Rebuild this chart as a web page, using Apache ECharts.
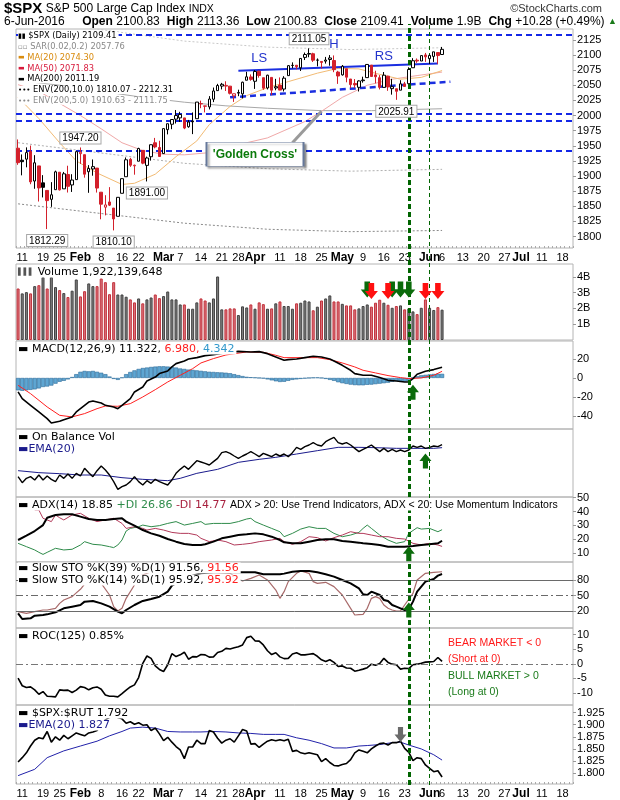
<!DOCTYPE html>
<html><head><meta charset="utf-8">
<script src="https://cdn.jsdelivr.net/npm/echarts@6/dist/echarts.min.js"></script>
<style>html,body{margin:0;padding:0;background:#fff}#c{width:620px;height:800px}</style>
</head><body><div id="c"></div>
<script>
// ---------- categories (trading days) ----------
const monthDays = {
  '01':[8,11,12,13,14,15,19,20,21,22,25,26,27,28,29],
  '02':[1,2,3,4,5,8,9,10,11,12,16,17,18,19,22,23,24,25,26,29],
  '03':[1,2,3,4,7,8,9,10,11,14,15,16,17,18,21,22,23,24,28,29,30,31],
  '04':[1,4,5,6,7,8,11,12,13,14,15,18,19,20,21,22,25,26,27,28,29],
  '05':[2,3,4,5,6,9,10,11,12,13,16,17,18,19,20,23,24,25,26,27,31],
  '06':[1,2,3,6,7,8,9,10,13,14,15,16,17,20,21,22,23,24,27,28,29,30],
  '07':[1,5,6,7,8,11,12,13,14,15,18,19,20]
};
const categories = [];
Object.keys(monthDays).forEach(m => monthDays[m].forEach(d => categories.push('2016-' + m + '-' + String(d).padStart(2,'0'))));

const tickDates = ['2016-01-11','2016-01-19','2016-01-25','2016-02-01','2016-02-08','2016-02-16','2016-02-22','2016-03-01','2016-03-07','2016-03-14','2016-03-21','2016-03-28','2016-04-01','2016-04-11','2016-04-18','2016-04-25','2016-05-02','2016-05-09','2016-05-16','2016-05-23','2016-06-01','2016-06-06','2016-06-13','2016-06-20','2016-06-27','2016-07-01','2016-07-11','2016-07-18'];
const tickLabels = ['11','19','25','Feb','8','16','22','Mar','7','14','21','28','Apr','11','18','25','May','9','16','23','Jun','6','13','20','27','Jul','11','18'];

// ---------- price ----------
const prevClose0 = 1943.09;
const open = [1945.97,1926.12,1927.83,1940.34,1891.68,1916.68,1888.66,1876.18,1861.46,1877.40,1906.28,1878.79,1902.52,1885.22,1894.00,
1936.94,1935.26,1907.07,1911.67,1913.07,1873.25,1848.46,1857.10,1847.00,1833.40,1871.44,1898.80,1927.57,1916.74,1924.44,1942.38,1917.56,1931.87,1954.95,1947.13,
1937.09,1976.60,1985.60,1994.01,1996.11,1996.05,1981.44,1990.97,1994.71,2019.27,2015.27,2014.24,2026.90,2041.16,2048.64,2048.64,2048.55,2032.48,2037.89,2035.75,2058.27,2063.77,
2056.62,2073.19,2062.50,2045.56,2063.01,2045.54,2050.23,2043.72,2065.92,2082.89,2083.10,2078.83,2096.05,2101.52,2102.09,2091.49,2089.37,2089.84,2092.57,2090.93,2071.82,
2067.17,2077.18,2060.30,2052.95,2046.61,2057.55,2062.63,2083.29,2067.17,2062.50,2046.53,2065.04,2044.38,2044.21,2041.88,2052.23,2052.65,2078.93,2091.44,2090.06,2100.13,
2093.94,2097.71,2104.07,2100.83];
const high = [1960.40,1935.65,1947.38,1950.33,1934.47,1916.68,1901.44,1876.18,1889.85,1908.85,1906.28,1906.73,1916.99,1902.96,1940.24,
1947.20,1935.26,1918.01,1927.35,1913.07,1873.25,1868.25,1881.60,1847.00,1864.78,1895.77,1930.68,1930.00,1918.78,1946.70,1942.38,1932.08,1951.83,1962.96,1958.27,
1978.35,1986.51,1993.69,2009.13,2006.12,1996.05,1992.69,2005.08,2022.37,2024.57,2015.94,2032.02,2046.24,2052.36,2053.91,2056.60,2048.55,2036.04,2042.67,2055.91,2072.21,2067.92,
2075.07,2074.02,2062.50,2067.33,2063.01,2060.63,2062.93,2065.05,2083.18,2087.84,2083.22,2094.66,2104.05,2111.05,2103.78,2094.32,2089.37,2096.87,2099.89,2099.30,2073.85,
2083.42,2077.18,2060.30,2060.23,2058.21,2064.15,2084.87,2083.29,2073.99,2066.79,2071.88,2065.69,2060.61,2044.21,2058.35,2055.58,2079.67,2094.73,2094.30,2099.06,2103.48,
2100.97,2105.26,2104.07,2113.36];
const low = [1918.46,1901.10,1914.35,1886.41,1878.93,1857.83,1864.60,1812.29,1848.98,1877.40,1875.97,1878.79,1872.70,1873.65,1894.00,
1920.03,1897.29,1872.23,1900.52,1872.65,1828.46,1834.94,1850.32,1810.10,1833.40,1871.44,1898.80,1915.09,1902.17,1924.44,1919.44,1891.00,1925.41,1945.78,1931.81,
1937.09,1968.80,1977.37,1986.77,1989.38,1977.43,1979.84,1969.25,1994.71,2012.05,2005.23,2010.04,2022.16,2041.16,2043.14,2040.57,2034.86,2022.49,2031.96,2028.31,2058.27,2057.46,
2043.98,2062.57,2042.56,2043.09,2033.80,2041.69,2041.88,2039.74,2065.92,2078.13,2076.31,2073.65,2091.68,2096.32,2088.52,2081.20,2077.52,2085.80,2082.31,2071.62,2052.28,
2066.11,2054.89,2045.55,2045.77,2039.74,2054.31,2062.63,2064.46,2053.13,2043.13,2046.53,2040.82,2034.49,2025.91,2041.88,2047.26,2052.65,2078.93,2087.08,2090.06,2088.66,
2085.10,2088.59,2085.36,2100.83];
const close = [1922.03,1923.67,1938.68,1890.28,1921.84,1880.33,1881.33,1859.33,1868.99,1906.90,1877.08,1903.63,1882.95,1893.36,1940.24,
1939.38,1903.03,1912.53,1915.45,1880.05,1853.44,1852.21,1851.86,1829.08,1864.78,1895.58,1926.82,1917.83,1917.78,1945.50,1921.27,1929.80,1951.70,1948.05,1932.23,
1978.35,1986.45,1993.40,1999.99,2001.76,1979.26,1989.26,1989.57,2022.19,2019.64,2015.93,2027.22,2040.59,2049.58,2051.60,2049.80,2036.71,2035.94,2037.05,2055.01,2063.95,2059.74,
2072.78,2066.13,2045.17,2066.66,2041.91,2047.60,2041.99,2061.72,2082.42,2082.78,2080.73,2094.34,2100.80,2102.40,2091.48,2091.58,2087.79,2091.70,2095.15,2075.81,2065.30,
2081.43,2063.37,2051.12,2050.63,2057.14,2058.69,2084.39,2064.46,2064.11,2046.61,2066.66,2047.21,2047.63,2040.04,2052.32,2048.04,2076.06,2090.54,2090.10,2099.06,2096.95,
2099.33,2105.26,2099.13,2109.41];

// overlays: [dayIndex, value]
const ma20 = [[0,2030],[5,1995],[10,1955],[14,1925],[19,1905],[25,1886],[28,1888],[33,1903],[38,1932],[43,1958],[46,1985],[51,2015],[55,2033],[60,2046],[65,2056],[72,2070],[77,2078],[82,2077],[87,2068],[92,2060],[97,2063],[102,2074.3]];
const ma50 = [[0,2051],[5,2040],[10,2020],[15,2000],[20,1978],[25,1955],[30,1942],[35,1936],[40,1935],[45,1938],[50,1945],[55,1955],[60,1963],[64,1975],[69,1990],[73,2007],[78,2030],[84,2050],[90,2060],[96,2066],[102,2071.8]];
const ma200 = [[0,2058],[10,2050],[20,2040],[30,2030],[40,2022],[50,2016],[60,2012],[73,2008],[85,2008],[95,2010],[102,2011.2]];
const env10Lo = [[0,1854],[20,1838],[40,1822],[60,1812],[80,1808],[102,1810]];
const env5Lo = [[0,1955],[20,1938],[40,1921],[60,1912],[80,1908],[102,1911]];
const env5Hi = [[0,2161],[20,2142],[40,2123],[60,2113],[80,2109],[102,2112]];

// annotations
const hLines = [2133, 2003, 1992, 1941];
const neckIdx = [53, 101], neckVal = [2074, 2086];
const suppIdx = [51, 104], suppVal = [2030, 2056];
const hsText = ['LS','H','RS'], hsIdx = [58, 76, 88], hsVal = [2095, 2117, 2098];
const priceTagIdx = [70, 15, 31, 7, 23, 91];
const priceTagVal = [2111.05, 1947.20, 1891.00, 1812.29, 1810.10, 2025.91];
const priceTagPos = ['top','top','bottom','bottom','bottom','bottom'];
const gcIdx = 57, gcVal = 1936;
const gcPtrIdx = [66, 73], gcPtrVal = [1955, 2007];
const signalIdx = [94, 99];

// ---------- volume (billions) ----------
const volume = [3.26,2.95,3.03,2.95,3.41,3.47,3.98,3.26,3.98,3.35,3.16,2.97,2.72,3.12,3.83,
2.76,3.09,3.58,3.41,3.41,3.89,3.66,2.9,3.66,2.88,2.88,2.74,2.57,2.38,2.63,
2.32,2.57,2.69,2.88,2.65,2.78,3.07,2.57,2.57,2.25,2.25,1.98,1.98,2.38,2.63,
2.5,2.38,2.63,4.02,1.94,1.94,2.0,2.0,
1.58,2.13,2.06,2.25,1.98,2.38,2.27,1.98,2.0,2.32,
2.44,2.15,2.15,1.98,2.32,2.36,2.5,2.44,1.88,2.11,
2.5,2.63,2.82,2.44,2.44,2.29,2.19,2.19,1.94,2.0,
2.15,2.25,2.11,2.36,2.55,2.36,2.23,2.04,2.15,2.19,
1.94,2.0,1.81,1.64,2.04,2.57,2.04,1.9,2.08,1.92];
const volArrowGreen = [84, 90, 92, 94];
const volArrowRed = [85, 89, 98, 101];
const volArrowLevel = 3.1;

// ---------- MACD ----------
const macd = [[0,-14.7],[1,-21.8],[3,-28.8],[5,-35.8],[7,-42.8],[8,-47.4],[10,-45.6],[11,-43.9],[13,-41],[14,-35.8],[16,-28.8],[17,-25.3],[18,-24.2],[20,-26.3],[21,-28.8],[23,-30.5],[24,-32.3],[25,-28.8],[27,-21.8],[28,-14.7],[30,-9.5],[31,-3.2],[33,1],[34,4.6],[36,7.4],[37,11.6],[38,15.1],[40,17.9],[41,20],[43,21.4],[45,23.5],[47,24.6],[50,26.5],[53,28],[56,27.4],[58,27.7],[60,25.6],[62,22.1],[64,18.6],[65,19.3],[67,20],[69,21.4],[71,22.8],[73,22.1],[75,20],[76,17.9],[78,13.3],[80,8.1],[81,4.6],[83,2.8],[85,2.8],[87,0.4],[89,-2.5],[91,-3.2],[93,-4.2],[94,-4.2],[95,-0.7],[96,3.9],[98,7],[100,8.8],[102,11.3]];
const macdSignal = [[0,-7.7],[3,-16.5],[7,-30.5],[10,-39.3],[13,-41],[16,-37.5],[19,-32.3],[21,-29.5],[24,-29.8],[27,-27],[30,-20],[33,-12.3],[36,-4.2],[39,2.8],[42,9.8],[44,15.8],[47,20.4],[50,24.2],[55,27.4],[59,27],[62,23.9],[64,21.4],[68,21.4],[72,21.4],[75,19.3],[78,15.8],[81,11.6],[83,8.1],[86,5.3],[89,2.5],[92,0.4],[94,-0.7],[97,0],[100,2.8],[102,7]];
const macdHist = [-13,-13.5,-13,-12.5,-12,-11,-9.5,-9,-8,-6,-4,-3,-1.5,1,4,6.5,7.4,7,7.4,6.5,5.5,4,1.5,-1,-2,0.5,4,6.3,8,9.5,
10.5,11,11.6,12,12.3,12.3,12,11.6,11,10,9.5,8.8,8.5,8,7.5,7,6.5,6.3,6,5.8,5.5,5,4,3,2,1.2,0.8,0.5,0,-0.5,-1.5,-2.5,-3.5,
-4.2,-4,-3,-2,-1.5,-1,-0.5,0,0.4,0.5,0,-1,-2,-3,-4.5,-5.5,-6.3,-7,-7.5,-7.7,-7.7,-7.2,-7,-6.5,-6,-5.5,-5,-4,-3.2,-3.5,-3.8,-3.5,
0.2,1.8,2.8,3.3,3.8,4.2,4.5,4.34];

// ---------- On Balance Volume (relative units) ----------
const obv = [60,42,55,60,50,65,50,62,52,45,65,55,68,55,70,62,85,72,60,78,92,80,65,45,22,30,35,45,60,45,35,48,40,52,45,40,35,50,70,82,92,82,95,108,104,
100,95,105,115,132,135,130,122,115,122,128,135,128,120,130,125,120,128,122,128,120,132,148,142,150,155,162,155,152,165,172,178,162,158,162,155,145,135,142,148,155,145,135,145,135,142,135,140,135,140,152,148,152,145,148,152,150,156];
const obvEma = [[0,78],[5,72],[10,69],[15,65],[20,65],[25,57],[30,52],[36,48],[39,55],[43,70],[48,82],[53,103],[58,112],[62,118],[67,128],[72,138],[77,148],[82,148],[86,147],[91,145],[96,145],[100,145],[102,147]];

// ---------- ADX ----------
const adx = [[0,19.4],[2,22.5],[4,25.9],[6,30.2],[7,35.5],[9,37.5],[11,38],[13,38],[15,36.3],[17,34.6],[19,33.9],[21,33.9],[23,34.6],[25,35.1],[26,32.7],[28,29.8],[30,26.6],[32,24.2],[34,22.5],[36,20.1],[38,18.2],[40,16.5],[42,15.8],[44,15.8],[45,16.3],[47,18.2],[49,20.6],[51,21.8],[53,23],[55,23.5],[57,24.2],[59,23.5],[61,21.8],[63,19.4],[64,17.7],[66,17],[68,17],[70,18.2],[72,19.4],[74,19.9],[76,19.9],[78,18.7],[80,18.2],[82,17.5],[83,17],[85,16.5],[87,15.8],[89,14.6],[91,14.6],[93,14.6],[95,15.1],[97,15.8],[99,16.3],[101,17],[102,18.85]];
const plusDI = [[0,17],[2,14.6],[4,12.2],[5,10.5],[6,9],[7,10.5],[9,13.4],[11,12.2],[13,12.7],[15,15.8],[16,18.2],[18,16.3],[20,15.8],[22,14.6],[23,13.9],[24,15.8],[25,19.4],[26,25.9],[27,27.8],[29,29],[30,30.2],[32,29],[34,29.8],[36,31.4],[38,32.7],[40,30.2],[42,31.4],[44,32.7],[45,30.7],[47,31.4],[49,31.4],[51,31.4],[53,32.7],[55,34.6],[56,35.1],[57,32.7],[59,30.2],[61,27.8],[63,25.4],[64,21.8],[66,24.2],[68,27.3],[70,29],[72,27.8],[74,27.8],[76,24.2],[78,21.8],[80,23],[82,24.9],[83,27.8],[84,30.2],[85,27.8],[87,23],[89,19.4],[91,17],[93,18.2],[94,24.2],[96,28.3],[97,27.3],[99,27.8],[101,25.4],[102,26.86]];
const minusDI = [[0,48.3],[1,45.9],[3,44.7],[4,41.1],[5,41.1],[6,35.1],[8,32.7],[9,37.5],[10,35.5],[11,33.9],[13,37.5],[15,38.7],[17,35.1],[19,32.7],[21,33.9],[23,35.1],[25,31.4],[26,27.8],[28,29],[30,27.8],[31,26.6],[33,27.8],[35,26.6],[37,24.9],[39,24.2],[41,24.2],[43,23],[44,20.6],[46,18.2],[48,19.4],[50,18.2],[52,15.8],[54,16.3],[56,17],[58,18.2],[61,19.4],[63,20.6],[64,18.2],[66,16.3],[68,18.2],[70,21.8],[72,21.1],[74,18.7],[76,21.1],[78,23],[80,25.4],[82,24.2],[83,24.2],[85,23],[87,21.8],[89,21.8],[91,20.6],[93,20.1],[95,17],[97,15.8],[99,17],[101,15.8],[102,14.77]];

// ---------- Slow Stochastics ----------
const sto39 = [[0,15.5],[1,4.5],[3,5.8],[4,11],[6,12.3],[7,13.5],[9,17.4],[11,25.2],[13,28.4],[15,31.6],[16,38.1],[18,39.4],[20,34.8],[22,28.4],[24,18.7],[25,15.5],[26,21.9],[28,31.6],[30,39.4],[32,43.2],[34,47.7],[36,57.4],[37,69],[40,83.2],[44,92.9],[47,94.8],[51,94.8],[54,94.8],[57,94.8],[59,91],[61,91],[63,91],[64,92.3],[66,96.1],[68,97.4],[70,97.4],[72,94.8],[74,91],[76,86.5],[78,80],[80,73.5],[82,63.9],[83,52.3],[84,51],[85,57.4],[87,51],[88,41.3],[89,39.4],[90,31.6],[91,28.4],[92,25.2],[93,21.9],[94,23.2],[95,38.1],[96,57.4],[98,76.8],[100,81.9],[101,88.4],[102,91.56]];
const sto14 = [[0,18.7],[2,15.5],[4,18.7],[6,21.9],[7,21.9],[9,25.2],[10,34.8],[11,41.3],[13,47.7],[14,55],[15,62],[16,72],[17,85],[18,90],[20,73.5],[22,51],[23,28.4],[24,20],[25,25.2],[26,44.5],[28,70.3],[29,86.5],[32,96],[36,99],[40,97],[44,96],[47,95],[51,92.9],[53,81.9],[54,78],[56,83.2],[58,89.7],[60,80],[62,60.6],[63,44.5],[64,57.4],[65,76.8],[67,92.9],[68,97.4],[70,92.9],[71,76.8],[72,73.5],[74,75.5],[76,67.1],[78,51],[80,25.2],[81,12.3],[82,13],[83,13.5],[84,25.2],[85,44.5],[86,47.7],[87,44.5],[88,31.6],[89,25.2],[90,22],[91,20],[92,20],[93,31.6],[95,54.2],[96,80],[98,92.9],[100,94.8],[102,95.92]];

// ---------- ROC(125) ----------
const roc = [-4.9,-7.5,-8.1,-7.9,-8.9,-10.4,-9.5,-11.1,-11.2,-11.3,-8.9,-9.1,-9,-9.8,-9,-7.8,-8.1,-8.9,-8.2,-7.9,
-8.7,-10.7,-11.1,-11.1,-11.3,-10.2,-9,-7.9,-7.2,-4.7,0.2,2.7,1.9,-0.7,-1.9,-2.6,-0.3,3.5,2.5,3.1,
4,1.6,2.5,2.4,3.2,3.1,2.3,2.4,3.9,4.3,5.3,5.1,5.5,5.9,6.5,9,9.5,7.9,7.8,6.5,
4.5,3.2,3.8,2.4,1.8,1.9,3.4,3.8,3.1,3.1,3.3,3.5,2.6,1.4,0.8,1.4,0.5,-0.9,-0.7,-1.4,
-1.5,-2.5,-2.2,-1.8,-1.3,-0.1,-0.5,0.1,1.9,0.5,-0.1,-0.3,-1.8,-1.5,-1.6,-0.3,-0.1,0.2,0.6,0.7,0.8,2.2,0.85];

// ---------- $SPX:$RUT ----------
const ratio = [1.823,1.832,1.842,1.856,1.868,1.873,1.871,1.886,1.864,1.875,1.868,1.878,1.871,1.877,1.883,1.880,1.877,1.883,1.885,1.888,
1.900,1.910,1.915,1.918,1.915,1.912,1.903,1.906,1.901,1.904,1.899,1.900,1.888,1.893,1.881,1.867,1.874,1.864,1.855,1.848,
1.830,1.854,1.854,1.868,1.861,1.861,1.888,1.885,1.872,1.862,1.868,1.871,1.864,1.877,1.890,1.887,1.860,1.861,1.853,1.860,
1.866,1.869,1.867,1.869,1.867,1.870,1.845,1.847,1.842,1.840,1.842,1.840,1.838,1.824,1.830,1.822,1.816,1.815,1.818,1.820,
1.828,1.842,1.848,1.845,1.842,1.850,1.856,1.861,1.862,1.858,1.863,1.863,1.866,1.851,1.843,1.826,1.832,1.830,1.817,1.810,1.803,1.805,1.792];
const ratioEma = [[0,1.795],[4,1.808],[7,1.832],[11,1.846],[15,1.856],[19,1.866],[22,1.877],[25,1.886],[27,1.893],[30,1.895],[33,1.893],[36,1.886],[39,1.885],[42,1.885],[44,1.885],[47,1.886],[50,1.885],[53,1.883],[56,1.882],[59,1.880],[62,1.880],[64,1.880],[67,1.873],[70,1.868],[73,1.861],[76,1.852],[79,1.852],[82,1.856],[84,1.857],[87,1.859],[90,1.863],[92,1.864],[94,1.858],[97,1.850],[100,1.838],[102,1.827]];

// ---------- tick values ----------
const priceTicks = [1800,1825,1850,1875,1900,1925,1950,1975,2000,2025,2050,2075,2100,2125];
const volTicks = [1,2,3,4];
const macdTicks = [-40,-20,0,20];
const adxTicks = [10,20,30,40,50];
const stoTicks = [20,50,80];
const rocTicks = [-10,-5,0,5,10];
const ratioTicks = [1.800,1.825,1.850,1.875,1.900,1.925];

// ===================================================================
const AX_FONT = '"Liberation Sans", Arial, sans-serif';
const LEG_FONT = '"DejaVu Sans", Verdana, sans-serif';
const tickMap = new Map(tickDates.map((d,i)=>[d, tickLabels[i]]));

const gridDefs = [
  {top:29, h:219}, {top:264, h:76}, {top:341, h:88}, {top:429, h:68},
  {top:497, h:65}, {top:562, h:66}, {top:628, h:77}, {top:705, h:80}
];
const GL = 16, GR = 47;
const grids = gridDefs.map(g => ({left:GL, right:GR, top:g.top, height:g.h, show:true, borderColor:'#b4b4b4', borderWidth:1, containLabel:false}));
grids.push({left:GL, right:GR, top:24, height:761, show:false});

function xAx(gi, labels) {
  return {type:'category', gridIndex:gi, data:categories, boundaryGap:true, show:true,
    axisLine:{show:false},
    axisTick:{show:labels, interval:0, inside:true, length:2, lineStyle:{color:'#aaa'}},
    axisLabel:{show:labels, interval:(i,v)=>tickMap.has(v), margin:4, color:'#000', fontSize:11, fontFamily:AX_FONT,
      formatter:(v)=>{const t=tickMap.get(v)||''; return /^[A-Z]/.test(t)?'{b|'+t+'}':t;},
      rich:{b:{fontWeight:'bold', fontSize:12, fontFamily:AX_FONT, color:'#000'}}},
    splitLine:{show:false}};
}
function yAx(gi, min, max, ticks, fmt) {
  return {type:'value', gridIndex:gi, position:'right', min, max, show:true,
    splitLine:{show:false}, axisLine:{show:false},
    axisTick:{show:!!ticks, length:3, lineStyle:{color:'#999'}, customValues:ticks||undefined},
    axisLabel:{show:!!ticks, customValues:ticks||undefined, formatter:fmt, color:'#000', fontSize:11, fontFamily:AX_FONT, margin:4}};
}
const xAxes = [];
for (let i=0;i<8;i++) xAxes.push(xAx(i, i===0||i===7));
xAxes.push({type:'category', gridIndex:8, data:categories, show:false, boundaryGap:true});
const yAxes = [
  yAx(0,1781,2143,priceTicks,v=>String(v)),
  yAx(1,0,4.81,volTicks,v=>v+'B'),
  yAx(2,-53.7,38.9,macdTicks,v=>String(v)),
  yAx(3,-1,203,null),
  yAx(4,3.5,50.5,adxTicks,v=>String(v)),
  yAx(5,-12.9,114.8,stoTicks,v=>String(v)),
  yAx(6,-14.1,12.3,rocTicks,v=>String(v)),
  yAx(7,1.7777,1.9406,ratioTicks,v=>v.toFixed(3)),
  {type:'value', gridIndex:8, min:0, max:1, show:false}
];

const DOWN = 'path://M4,0 H10 V8 H14 L7,16 L0,8 H4 Z';
const UP = 'path://M7,0 L14,8 H10 V16 H4 V8 H0 Z';
const RED='#d3202b';
function line(gi, data, color, width, extra) {
  return Object.assign({type:'line', xAxisIndex:gi, yAxisIndex:gi, data, symbol:'none', smooth:false,
    lineStyle:{color, width}, silent:true, z:3}, extra||{});
}
function arrow(idx, val, shape, color) {
  return {symbol:shape, symbolSize:[12,15], data:[{coord:[idx,val]}], itemStyle:{color:color||'#0b6b0b'}, label:{show:false}, silent:true};
}
const nulls = categories.map(()=>null);

const candleData = close.map((c,i)=>{
  const prev = i ? close[i-1] : prevClose0;
  const border = c >= prev ? '#000' : RED;
  const fill = c > open[i] ? '#fff' : border;
  return {value:[open[i], c, low[i], high[i]], itemStyle:{color:fill, color0:fill, borderColor:border, borderColor0:border, borderWidth:1}};
});
const volData = volume.map((v,i)=>{
  const prev = i ? close[i-1] : prevClose0;
  const dn = close[i] < prev;
  return {value:v, itemStyle:{color: dn?'#d9757d':'#808080', borderColor: dn?'#c2303a':'#404040', borderWidth:1}};
});

const series = [
  line(0, env10Lo, '#8a8a8a', 1, {lineStyle:{color:'#8a8a8a', width:1, type:[2,2]}}),
  line(0, env5Lo, '#b0b0b0', 1, {lineStyle:{color:'#b0b0b0', width:1, type:[2,2]}}),
  line(0, env5Hi, '#c8c8c8', 1, {lineStyle:{color:'#c8c8c8', width:1, type:[2,2]}}),
  line(0, ma200, '#a8a8a8', 1),
  line(0, ma50, '#f0a8a8', 1),
  line(0, ma20, '#f2bb74', 1),
  {type:'candlestick', xAxisIndex:0, yAxisIndex:0, data:candleData, barWidth:3, z:5, silent:true,
   markPoint:{silent:true, symbol:'circle', symbolSize:0,
     data: priceTagIdx.map((d,i)=>({coord:[d, priceTagVal[i]], value:priceTagVal[i],
       label:{show:true, position:priceTagPos[i], distance: priceTagPos[i]==='top'?4:6, formatter:priceTagVal[i].toFixed(2),
         backgroundColor:'#fff', borderColor:'#a8a8a8', borderWidth:1, padding:[1,2,0,2], color:'#000', fontSize:10, fontFamily:AX_FONT}}))}},
  {type:'line', xAxisIndex:0, yAxisIndex:0, data:nulls, symbol:'none', z:60, silent:true,
   markLine:{silent:true, symbol:['none','none'], label:{show:false}, animation:false,
     data:[
       ...hLines.map(v=>({yAxis:v, lineStyle:{color:'#1428e6', width:2, type:[6,4]}})),
       [{coord:[neckIdx[0],neckVal[0]], lineStyle:{color:'#1a2ee0', width:2, type:'solid'}},{coord:[neckIdx[1],neckVal[1]]}],
       [{coord:[suppIdx[0],suppVal[0]], lineStyle:{color:'#1a2ee0', width:2.5, type:[6,4]}},{coord:[suppIdx[1],suppVal[1]]}],
       [{coord:[gcPtrIdx[0],gcPtrVal[0]], lineStyle:{color:'#9a9a9a', width:3, type:'solid'}},{coord:[gcPtrIdx[1],gcPtrVal[1]]}]
     ]},
   markPoint:{silent:true, data:[
     ...hsText.map((t,i)=>({coord:[hsIdx[i],hsVal[i]], symbol:'circle', symbolSize:0,
        label:{show:true, position:'inside', formatter:t, color:'#2233cc', fontSize:13, fontFamily:AX_FONT}})),
     {coord:[gcIdx,gcVal], symbol:'rect', symbolSize:[97,24],
        itemStyle:{color:'#fff', borderColor:'#66789a', borderWidth:1, shadowColor:'rgba(0,0,0,0.35)', shadowOffsetX:2, shadowOffsetY:2, shadowBlur:2},
        label:{show:true, position:'inside', formatter:"'Golden Cross'", color:'#0b7a0b', fontWeight:'bold', fontSize:12, fontFamily:AX_FONT}}
   ]}},
  {type:'bar', xAxisIndex:1, yAxisIndex:1, data:volData, barWidth:3, silent:true, z:3,
   markPoint:{silent:true, data:[
     ...volArrowGreen.map(d=>({coord:[d,volArrowLevel+0.1], symbol:DOWN, symbolSize:[13,16], itemStyle:{color:'#0b6b0b'}})),
     ...volArrowRed.map(d=>({coord:[d,volArrowLevel], symbol:DOWN, symbolSize:[13,16], itemStyle:{color:'#ff1010'}}))
   ], label:{show:false}}},
  {type:'bar', xAxisIndex:2, yAxisIndex:2, data:macdHist, barCategoryGap:'0%', silent:true, z:2,
   itemStyle:{color:'#5fa6d2', borderColor:'#2a6a98', borderWidth:0.6}},
  line(2, macdSignal, '#ff2020', 1),
  line(2, macd, '#000', 1.6, {markPoint:arrow(95, -15, UP)}),
  line(3, obvEma, '#1a1a8c', 1),
  line(3, obv, '#000', 1.4, {markPoint:arrow(98, 107, UP)}),
  line(4, plusDI, '#2e8b4a', 1),
  line(4, minusDI, '#b23a5a', 1),
  line(4, adx, '#000', 2, {markPoint:arrow(94, 9.5, UP)}),
  line(5, sto14, '#a86a6a', 1.2),
  line(5, sto39, '#000', 2, {markPoint:arrow(94, 22, UP),
    markLine:{silent:true, symbol:['none','none'], label:{show:false},
      data:[{yAxis:80, lineStyle:{color:'#6a6a6a', width:1, type:'solid'}},
            {yAxis:20, lineStyle:{color:'#6a6a6a', width:1, type:'solid'}},
            {yAxis:50, lineStyle:{color:'#6a6a6a', width:1, type:[7,3,2,3]}}]}}),
  line(6, roc, '#000', 1.6, {markLine:{silent:true, symbol:['none','none'], label:{show:false},
      data:[{yAxis:0, lineStyle:{color:'#777', width:1, type:[7,3,2,3]}}]}}),
  line(7, ratioEma, '#2222aa', 1),
  line(7, ratio, '#000', 1.6, {markPoint:arrow(92, 1.880, DOWN, '#6b6b6b')}),
  {type:'line', xAxisIndex:8, yAxisIndex:8, data:nulls, symbol:'none', z:60, silent:true,
   markLine:{silent:true, symbol:['none','none'], label:{show:false},
     data:[{xAxis:signalIdx[0], lineStyle:{color:'#006400', width:3, type:[5,3]}},
           {xAxis:signalIdx[1], lineStyle:{color:'#006400', width:1, type:[4,3]}}]}}
];

// ---------- text: header & legends ----------
const G = [];
function T(x, y, text, opts) {
  opts = opts||{};
  G.push({type:'text', x, y, z:50, silent:true, style:{text, font: opts.font||('11px '+LEG_FONT), fill: opts.fill||'#000',
    verticalAlign:'middle', align: opts.align||'left', backgroundColor: opts.bg===false?null:'#fff', padding:[0,2,0,0], rich:opts.rich||{}}});
}
T(4, 9, '{b|$SPX} {n|S&P 500 Large Cap Index} {s|INDX}', {bg:false, rich:{
  b:{font:'bold 15px '+AX_FONT, fill:'#000'}, n:{font:'12px '+AX_FONT, fill:'#000'}, s:{font:'10.5px '+AX_FONT, fill:'#000'}}});
T(604, 9, '©StockCharts.com', {align:'right', bg:false, font:'11px '+AX_FONT, fill:'#333'});
T(4, 22, '{n|6-Jun-2016}     {b|Open} {n|2100.83}  {b|High} {n|2113.36}  {b|Low} {n|2100.83}  {b|Close} {n|2109.41}  {b|Volume} {n|1.9B}  {b|Chg} {n|+10.28 (+0.49%)} {g|▲}', {bg:false, rich:{
  b:{font:'bold 12px '+AX_FONT, fill:'#000'}, n:{font:'12px '+AX_FONT, fill:'#000'}, g:{font:'9px '+AX_FONT, fill:'#1a7a1a'}}});
const PF = '8.3px '+LEG_FONT;
const pl = [
  ['{k|▮▮} $SPX (Daily) 2109.41', '#000'],
  ['{k|▫▫} SAR(0.02,0.2) 2057.76', '#8a8a8a'],
  ['{k|▬} MA(20) 2074.30', '#d98c10'],
  ['{k|▬} MA(50) 2071.83', '#d81b3c'],
  ['{k|▬} MA(200) 2011.19', '#000'],
  ['{k|•••} ENV(200,10.0) 1810.07 - 2212.31', '#000'],
  ['{k|•••} ENV(200,5.0) 1910.63 - 2111.75', '#8a8a8a']
];
pl.forEach((r,i)=>T(18, 36+i*10.8, r[0], {font:PF, fill:r[1], rich:{k:{font:'7px '+LEG_FONT, fill:r[1]}}}));
T(18, 272, '{k|▌▌▌} Volume 1,922,139,648', {rich:{k:{font:'7px '+LEG_FONT, fill:'#555'}}});
T(18, 349, '{k|▬} MACD(12,26,9) 11.322, {r|6.980,} {c|4.342}', {rich:{k:{fill:'#000'}, r:{fill:'#ff2020'}, c:{fill:'#3399cc'}}});
T(18, 437, '{k|▬} On Balance Vol', {rich:{k:{fill:'#000'}}});
T(18, 449, '{k|▬}EMA(20)', {fill:'#1a1a8c', rich:{k:{fill:'#1a1a8c'}}});
T(18, 505, '{k|▬} ADX(14) 18.85 {g|+DI 26.86} {r|-DI 14.77} {a|ADX > 20: Use Trend Indicators, ADX < 20: Use Momentum Indicators}', {rich:{
  k:{fill:'#000'}, g:{fill:'#2e8b4a'}, r:{fill:'#a8223f'}, a:{font:'10.5px '+AX_FONT, fill:'#000'}}});
T(18, 568, '{k|▬} Slow STO %K(39) %D(1) 91.56, {r|91.56}', {rich:{k:{fill:'#000'}, r:{fill:'#ff2020'}}});
T(18, 580, '{k|▬} Slow STO %K(14) %D(1) 95.92, {r|95.92}', {rich:{k:{fill:'#000'}, r:{fill:'#ff2020'}}});
T(18, 636, '{k|▬} ROC(125) 0.85%', {rich:{k:{fill:'#000'}}});
T(448, 643, 'BEAR MARKET < 0', {bg:false, font:'10.5px '+AX_FONT, fill:'#ff1a1a'});
T(448, 659, '(Short at 0)', {bg:false, font:'10.5px '+AX_FONT, fill:'#ff1a1a'});
T(448, 676, 'BULL MARKET > 0', {bg:false, font:'10.5px '+AX_FONT, fill:'#1a7a1a'});
T(448, 692, '(Long at 0)', {bg:false, font:'10.5px '+AX_FONT, fill:'#1a7a1a'});
T(18, 713, '{k|▬} $SPX:$RUT 1.792', {rich:{k:{fill:'#000'}}});
T(18, 725, '{k|▬}EMA(20) 1.827', {fill:'#1a1a8c', rich:{k:{fill:'#1a1a8c'}}});

const chart = echarts.init(document.getElementById('c'), null, {renderer:'canvas'});
chart.setOption({
  animation:false, backgroundColor:'#fff',
  grid:grids, xAxis:xAxes, yAxis:yAxes, series, graphic:{elements:G}
});
</script></body></html>
